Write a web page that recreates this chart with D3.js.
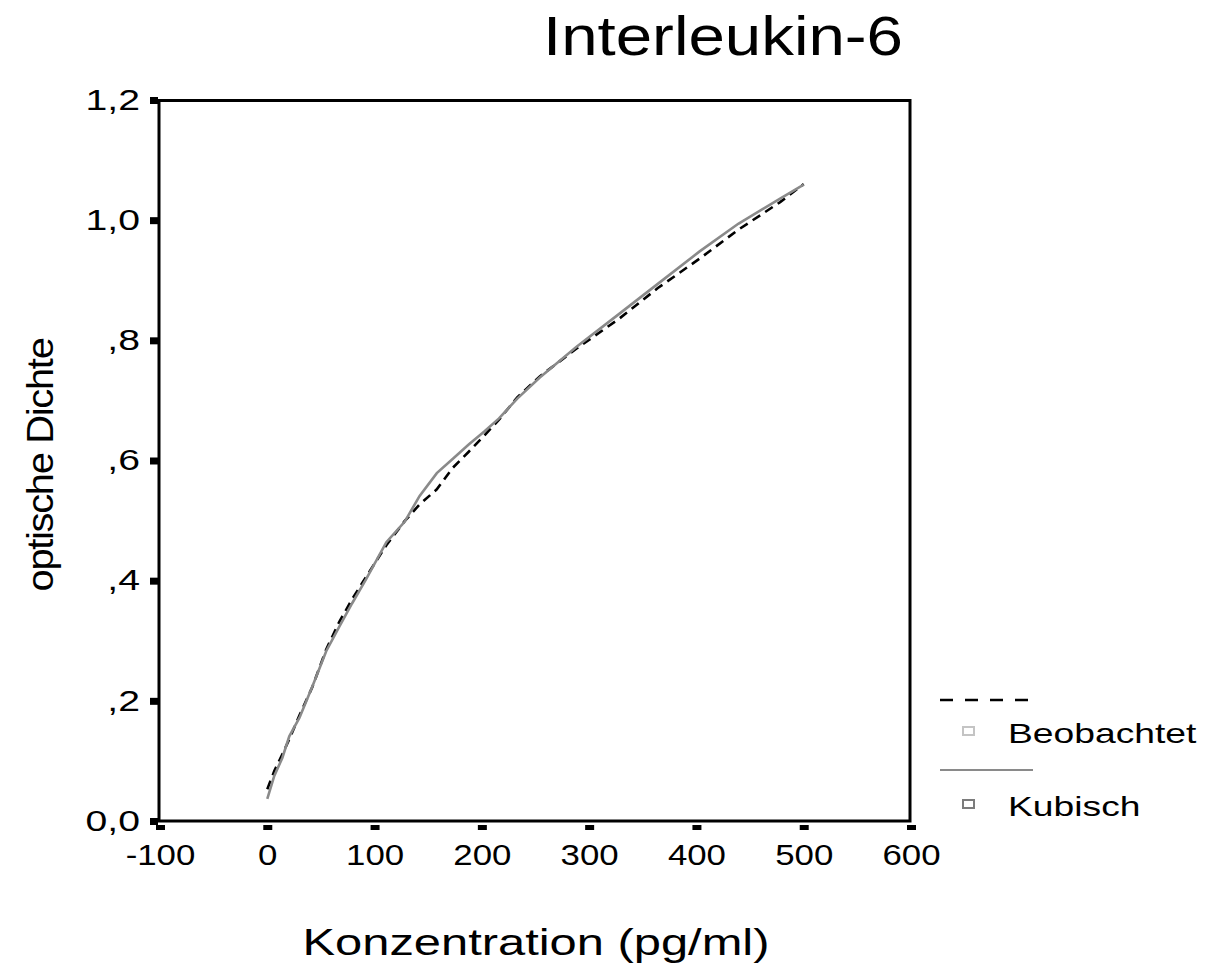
<!DOCTYPE html>
<html>
<head>
<meta charset="utf-8">
<script src="https://cdn.jsdelivr.net/npm/d3@7"></script>
<style>
  body { margin: 0; background: #fff; }
  text { font-family: "Liberation Sans", Arial, sans-serif; fill: #000; }
</style>
</head>
<body>
<div id="chart"></div>
<script>
// concentrations (pg/ml) and optical density
const conc = [0, 6.5, 14, 20.5, 30, 42, 55, 67, 79, 92, 111, 128, 142, 158, 173, 188, 202, 216, 233, 254, 288, 328, 364, 403, 439, 478, 500];
const observed = [0.053, 0.083, 0.111, 0.136, 0.176, 0.223, 0.286, 0.331, 0.369, 0.406, 0.459, 0.499, 0.527, 0.552, 0.588, 0.615, 0.641, 0.668, 0.705, 0.740, 0.786, 0.836, 0.887, 0.936, 0.984, 1.030, 1.060];
const cubic = [0.037, 0.075, 0.105, 0.141, 0.172, 0.224, 0.283, 0.323, 0.362, 0.402, 0.464, 0.498, 0.541, 0.579, 0.603, 0.627, 0.648, 0.670, 0.703, 0.738, 0.789, 0.844, 0.894, 0.948, 0.994, 1.036, 1.059];

const xTicks = [-100, 0, 100, 200, 300, 400, 500, 600];
const yTicks = [0, 0.2, 0.4, 0.6, 0.8, 1.0, 1.2];
const yTickLabels = ["0,0", ",2", ",4", ",6", ",8", "1,0", "1,2"];
const legendLabels = ["Beobachtet", "Kubisch"];

const W = 1217, H = 963;
const x = d3.scaleLinear().domain([-100, 600]).range([160, 911]);
const y = d3.scaleLinear().domain([0, 1.2]).range([821, 100]);

const svg = d3.select("#chart").append("svg")
    .attr("width", W)
    .attr("height", H);

// the original is stretched sideways, so widen the text the same way
function widen(sel, f) {
    sel.each(function() {
        const len = this.getComputedTextLength();
        d3.select(this).attr("textLength", len * f).attr("lengthAdjust", "spacingAndGlyphs");
    });
}

svg.append("text")
    .attr("x", 543)
    .attr("y", 55)
    .style("font-size", "55px")
    .text("Interleukin-6")
    .attr("textLength", 360)
    .attr("lengthAdjust", "spacingAndGlyphs");

// axes
const xAxis = svg.append("g")
    .attr("transform", `translate(0,821)`)
    .call(d3.axisBottom(x).tickValues(xTicks).tickSize(9).tickPadding(14).tickFormat(d => String(d)));
xAxis.select(".domain").remove();
xAxis.selectAll(".tick line")
    .attr("y1", 4).attr("y2", 9)
    .attr("stroke", "#000").attr("stroke-width", 9);
xAxis.selectAll(".tick text")
    .style("font-size", "29px")
    .call(widen, 1.2);

const yAxis = svg.append("g")
    .attr("transform", `translate(159,0)`)
    .call(d3.axisLeft(y).tickValues(yTicks).tickSize(9).tickPadding(10).tickFormat((d, i) => yTickLabels[i]));
yAxis.select(".domain").remove();
yAxis.selectAll(".tick line")
    .attr("x1", -1)
    .attr("stroke", "#000").attr("stroke-width", 7);
yAxis.selectAll(".tick text")
    .style("font-size", "29px")
    .call(widen, 1.35);

// frame
svg.append("rect")
    .attr("x", 159).attr("y", 100.5)
    .attr("width", 910 - 159).attr("height", 821 - 100.5)
    .attr("fill", "none")
    .attr("stroke", "#000")
    .attr("stroke-width", 3);

const pts = conc.map((c, i) => ({ c: c, o: observed[i], k: cubic[i] }));

svg.append("path")
    .datum(pts)
    .attr("fill", "none")
    .attr("stroke", "#000")
    .attr("stroke-width", 2.6)
    .attr("stroke-dasharray", "9,6")
    .attr("d", d3.line().x(d => x(d.c)).y(d => y(d.o)));

svg.append("path")
    .datum(pts)
    .attr("fill", "none")
    .attr("stroke", "#8a8a8a")
    .attr("stroke-width", 2.6)
    .attr("d", d3.line().x(d => x(d.c)).y(d => y(d.k)));

// axis titles
svg.append("text")
    .attr("x", 536)
    .attr("y", 955)
    .attr("text-anchor", "middle")
    .style("font-size", "37px")
    .text("Konzentration (pg/ml)")
    .attr("textLength", 467)
    .attr("lengthAdjust", "spacingAndGlyphs");

svg.append("text")
    .attr("transform", "translate(53,465) rotate(-90) scale(1,1.2)")
    .attr("text-anchor", "middle")
    .style("font-size", "30px")
    .style("letter-spacing", "-1px")
    .text("optische Dichte")
    .attr("textLength", 253)
    .attr("lengthAdjust", "spacingAndGlyphs");

// legend
const lg = svg.append("g");
lg.append("line")
    .attr("x1", 940).attr("x2", 1033).attr("y1", 700).attr("y2", 700)
    .attr("stroke", "#000").attr("stroke-width", 2.6)
    .attr("stroke-dasharray", "13,12");
lg.append("line")
    .attr("x1", 940).attr("x2", 1033).attr("y1", 770).attr("y2", 770)
    .attr("stroke", "#8a8a8a").attr("stroke-width", 2.2);

const swatch = ["#c4c4c4", "#7c7c7c"];
const rowY = [743, 816];
legendLabels.forEach((name, i) => {
    lg.append("rect")
        .attr("x", 963).attr("y", rowY[i] - 16)
        .attr("width", 11).attr("height", 8)
        .attr("fill", "#fff")
        .attr("stroke", swatch[i])
        .attr("stroke-width", 2);
    lg.append("text")
        .attr("x", 1008).attr("y", rowY[i])
        .style("font-size", "28px")
        .text(name)
        .call(widen, 1.33);
});
</script>
</body>
</html>
